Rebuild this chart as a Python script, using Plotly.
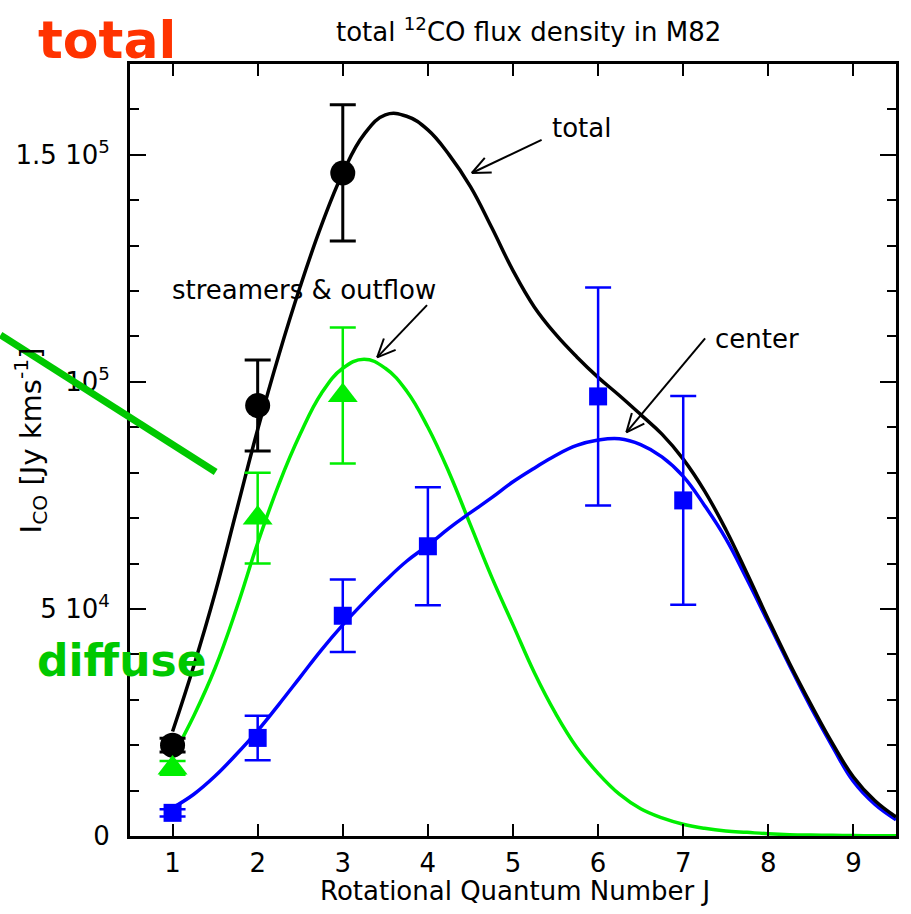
import plotly.graph_objects as go
import math

# ---------------- data (units: Jy km/s) ----------------
J_total = [1, 2, 3]
I_total = [20000, 94800, 146000]
E_total = [1500, 10000, 15000]

J_stream = [1, 2, 3]
I_stream = [15000, 70000, 97000]
E_stream = [1500, 10000, 15000]

J_center = [1, 2, 3, 4, 6, 7]
I_center = [5100, 21600, 48500, 63800, 96800, 73900]
E_center = [800, 4900, 8000, 13000, 24000, 23000]

# model curves (in units of 1e4)
J_curve = [1.0, 1.25, 1.5, 1.75, 2.0, 2.25, 2.5, 2.75, 3.0, 3.25, 3.5, 3.75, 4.0,
           4.25, 4.5, 4.75, 5.0, 5.25, 5.5, 5.75, 6.0, 6.25, 6.5, 6.75, 7.0, 7.25,
           7.5, 7.75, 8.0, 8.25, 8.5, 8.75, 9.0, 9.25, 9.5]
total_curve = [2.3, 3.75, 5.35, 7.15, 8.95, 10.6, 12.1, 13.45, 14.6, 15.45, 15.88, 15.85, 15.55,
               15.0, 14.3, 13.4, 12.45, 11.65, 11.05, 10.55, 10.1, 9.7, 9.28, 8.85, 8.3, 7.6,
               6.75, 5.78, 4.77, 3.8, 2.9, 2.05, 1.3, 0.78, 0.42]
stream_curve = [1.75, 2.65, 3.7, 5.0, 6.45, 7.75, 8.85, 9.75, 10.3, 10.5, 10.3, 9.8, 9.0,
                8.0, 6.85, 5.7, 4.65, 3.6, 2.7, 1.95, 1.38, 0.92, 0.6, 0.4, 0.26, 0.17,
                0.11, 0.08, 0.05, 0.03, 0.02, 0.015, 0.01, 0.007, 0.005]
center_curve = [0.62, 0.92, 1.32, 1.8, 2.32, 2.9, 3.5, 4.1, 4.65, 5.15, 5.62, 6.05, 6.4,
                6.78, 7.12, 7.45, 7.8, 8.1, 8.38, 8.6, 8.72, 8.75, 8.62, 8.35, 7.92, 7.28,
                6.55, 5.65, 4.7, 3.75, 2.83, 1.98, 1.2, 0.7, 0.36]
CURVE_UNIT = 1e4

ytick_vals = [0, 50000, 100000, 150000]
ytick_text = ["0", "5 10<sup>4</sup>", "10<sup>5</sup>", "1.5 10<sup>5</sup>"]

# ---------------- layout geometry ----------------
W, H = 911, 914
ML, MR, MT, MB = 130, 12, 64, 78
XR = [0.5, 9.5]
YR = [0, 170000]
PW, PH = W - ML - MR, H - MT - MB
sx = PW / (XR[1] - XR[0])
sy = PH / (YR[1] - YR[0])

def px2paper(px, py):
    return (px - ML) / PW, (H - MB - py) / PH

FONT = "DejaVu Sans"
BLACK = "black"
LIME = "#00ee00"
BLUE = "#0000ff"
FS = 26

fig = go.Figure()

def curve(y, color):
    fig.add_trace(go.Scatter(x=J_curve, y=[v * CURVE_UNIT for v in y], mode="lines",
                             line=dict(color=color, width=3.5, shape="spline", smoothing=1.2),
                             hoverinfo="skip", showlegend=False))

curve(stream_curve, LIME)
curve(center_curve, BLUE)
curve(total_curve, BLACK)

def pts(x, y, e, color, symbol, size, ew):
    fig.add_trace(go.Scatter(x=x, y=y, mode="markers",
                             marker=dict(color=color, symbol=symbol, size=size, line=dict(width=0)),
                             error_y=dict(type="data", array=e, color=color, thickness=ew, width=13),
                             showlegend=False))

pts(J_total, I_total, E_total, BLACK, "circle", 25, 3)
pts(J_stream, I_stream, E_stream, LIME, "triangle-up", 26, 2.5)
pts(J_center, I_center, E_center, BLUE, "square", 18, 2.5)

# ---------------- annotations with open-V arrows ----------------
labels = [
    ("total", 5.80, 156000, 5.336, 153300, 4.516, 146000),
    ("streamers &amp; outflow", 2.54, 120200, 3.99, 116900, 3.404, 105400),
    ("center", 7.87, 109400, 7.257, 109600, 6.332, 88900),
]
shapes = []
for txt, tx, ty, x0, y0, x1, y1 in labels:
    fig.add_annotation(x=tx, y=ty, text=txt, showarrow=False, xanchor="center", yanchor="middle",
                       font=dict(family=FONT, size=FS, color=BLACK))
    shapes.append(dict(type="line", xref="x", yref="y", x0=x0, y0=y0, x1=x1, y1=y1,
                       line=dict(color=BLACK, width=2)))
    dxp = (x1 - x0) * sx
    dyp = (y1 - y0) * sy
    ang = math.atan2(dyp, dxp)
    L = 20
    for da in (0.42, -0.42):
        a = ang + math.pi + da
        hx = x1 + L * math.cos(a) / sx
        hy = y1 + L * math.sin(a) / sy
        shapes.append(dict(type="line", xref="x", yref="y", x0=x1, y0=y1, x1=hx, y1=hy,
                           line=dict(color=BLACK, width=2)))

# dark green stroke over the left margin
gx0, gy0 = px2paper(0, 335)
gx1, gy1 = px2paper(216, 472)
shapes.append(dict(type="line", xref="paper", yref="paper", x0=gx0, y0=gy0, x1=gx1, y1=gy1,
                   line=dict(color="#00c800", width=7), layer="above"))

def paper_text(px, py, text, size, color, angle=0):
    x, y = px2paper(px, py)
    fig.add_annotation(x=x, y=y, xref="paper", yref="paper", showarrow=False,
                       xanchor="center", yanchor="middle", textangle=angle, text=text,
                       font=dict(family=FONT, size=size, color=color))

paper_text(530, 30, "total <sup>12</sup>CO flux density in M82", FS, BLACK)
paper_text(30, 440, "I<sub>CO</sub> [Jy kms<sup>-1</sup>]", 29, BLACK, -90)
paper_text(517, 891, "Rotational Quantum Number J", FS, BLACK)
paper_text(107, 40, "<b>total</b>", 52, "#ff3300")
paper_text(122, 660, "<b>diffuse</b>", 44, "#00c800")

fig.update_layout(
    width=W, height=H, margin=dict(l=ML, r=MR, t=MT, b=MB),
    paper_bgcolor="white", plot_bgcolor="white",
    shapes=shapes, showlegend=False,
    font=dict(family=FONT, size=FS, color=BLACK),
)
fig.update_xaxes(range=XR, tickmode="array", tickvals=list(range(1, 10)),
                 ticks="inside", ticklen=12, tickwidth=2, tickcolor=BLACK,
                 showline=True, linecolor=BLACK, linewidth=3, mirror="ticks",
                 showgrid=False, zeroline=False, tickfont=dict(size=FS, family=FONT),
                 ticklabelstandoff=2)
fig.update_yaxes(range=YR, tickmode="array", tickvals=ytick_vals, ticktext=ytick_text,
                 ticks="inside", ticklen=16, tickwidth=2, tickcolor=BLACK,
                 minor=dict(dtick=10000, ticklen=9, tickwidth=2, tickcolor=BLACK, ticks="inside"),
                 showline=True, linecolor=BLACK, linewidth=3, mirror="ticks",
                 showgrid=False, zeroline=False, tickfont=dict(size=FS, family=FONT),
                 ticklabelstandoff=12)

fig.write_html("out.html")
